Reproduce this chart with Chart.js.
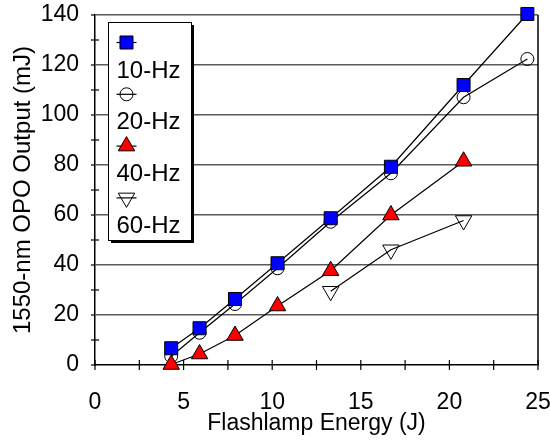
<!DOCTYPE html>
<html><head><meta charset="utf-8">
<script src="https://cdn.jsdelivr.net/npm/chart.js@4.4.1/dist/chart.umd.min.js"></script>
<style>html,body{margin:0;padding:0;background:#fff}#wrap{width:550px;height:446px;position:relative}</style>
</head><body><div id="wrap"><canvas id="c" width="550" height="446"></canvas></div>
<script>
const seriesNames = ['10-Hz', '20-Hz', '40-Hz', '60-Hz'];
const energy10 = [4.3, 5.9, 7.9, 10.3, 13.3, 16.7, 20.8, 24.4];
const out10 = [6.7, 14.7, 26.4, 40.7, 58.7, 79.3, 112, 140.4];
const energy20 = [4.3, 5.9, 7.9, 10.3, 13.3, 16.7, 20.8, 24.4];
const out20 = [3.5, 12.9, 24.4, 38.7, 57.3, 76.7, 107.1, 122.4];
const energy40 = [4.3, 5.9, 7.9, 10.3, 13.3, 16.7, 20.8];
const out40 = [0.2, 4.4, 11.8, 23.6, 37.7, 60.0, 81.5];
const energy60 = [13.3, 16.7, 20.8];
const out60 = [29.5, 46.1, 57.8];
const xTickValues = [0, 5, 10, 15, 20, 25];
const yTickValues = [0, 20, 40, 60, 80, 100, 120, 140];
const xTitle = 'Flashlamp Energy (J)';
const yTitle = '1550-nm OPO Output (mJ)';

const FONT = 'Arial, "Liberation Sans", sans-serif';
const toPts = (xs, ys) => xs.map((x, i) => ({x: x, y: ys[i]}));

const base = {showLine: true, borderColor: '#000', borderWidth: 1.2, pointBorderColor: '#000',
  pointBorderWidth: 1, clip: false, tension: 0, fill: false};

const datasets = [
  Object.assign({}, base, {label: seriesNames[0], data: toPts(energy10, out10), pointStyle: 'rect',
    pointRadius: 9.2, pointBackgroundColor: '#0000ff', order: 1}),
  Object.assign({}, base, {label: seriesNames[1], data: toPts(energy20, out20), pointStyle: 'circle',
    pointRadius: 6.5, pointBackgroundColor: 'rgba(255,255,255,0)', order: 3}),
  Object.assign({}, base, {label: seriesNames[2], data: toPts(energy40, out40), pointStyle: 'triangle',
    pointRadius: 9.5, pointBackgroundColor: '#ff0000', order: 2}),
  Object.assign({}, base, {label: seriesNames[3], data: toPts(energy60, out60), pointStyle: 'triangle',
    pointRotation: 180, pointRadius: 9.5, pointBackgroundColor: 'rgba(255,255,255,0)', order: 4})
];

function drawMarker(ctx, style, r, rot, x, y, fill) {
  ctx.save();
  ctx.fillStyle = fill; ctx.strokeStyle = '#000'; ctx.lineWidth = 1;
  ctx.beginPath();
  if (style === 'rect') {
    const s = Math.SQRT1_2 * r;
    ctx.rect(x - s, y - s, 2 * s, 2 * s);
  } else if (style === 'circle') {
    ctx.arc(x, y, r, 0, Math.PI * 2);
  } else {
    let a = (rot || 0) * Math.PI / 180;
    ctx.moveTo(x + Math.sin(a) * r, y - Math.cos(a) * r);
    a += 2 * Math.PI / 3;
    ctx.lineTo(x + Math.sin(a) * r, y - Math.cos(a) * r);
    a += 2 * Math.PI / 3;
    ctx.lineTo(x + Math.sin(a) * r, y - Math.cos(a) * r);
    ctx.closePath();
  }
  ctx.fill(); ctx.stroke();
  ctx.restore();
}

const decor = {
  id: 'decor',
  afterDatasetsDraw(chart) {
    const ctx = chart.ctx, ca = chart.chartArea;
    const xs = chart.scales.x, ys = chart.scales.y;
    ctx.save();
    ctx.strokeStyle = '#000'; ctx.lineWidth = 1.5;
    ctx.beginPath(); ctx.moveTo(ca.right, ca.top); ctx.lineTo(ca.right, ca.bottom); ctx.stroke();
    ctx.lineWidth = 1.2;
    ys.ticks.forEach(t => {
      const p = ys.getPixelForValue(t.value);
      ctx.beginPath(); ctx.moveTo(ca.left - 4, p);
      ctx.lineTo(ca.left + (t.value % 20 === 0 ? 0 : 4), p); ctx.stroke();
    });
    xs.ticks.forEach(t => {
      const p = xs.getPixelForValue(t.value);
      ctx.beginPath(); ctx.moveTo(p, ca.bottom - 5); ctx.lineTo(p, ca.bottom + 5); ctx.stroke();
    });
    ctx.restore();
  },
  afterDraw(chart) {
    const ctx = chart.ctx, ca = chart.chartArea;
    const L = ca.left + 13.5, T = ca.top + 7.5, W = 83, H = 218;
    ctx.save();
    ctx.fillStyle = '#000';
    ctx.fillRect(L + 2.5, T + 2.5, W, H);
    ctx.fillStyle = '#fff';
    ctx.fillRect(L, T, W, H);
    ctx.strokeStyle = '#000'; ctx.lineWidth = 1;
    ctx.strokeRect(L, T, W, H);
    chart.data.datasets.forEach((ds, i) => {
      const my = T + 20 + i * 51.8;
      const mx = L + 18;
      ctx.strokeStyle = '#000'; ctx.lineWidth = 1.2;
      ctx.beginPath(); ctx.moveTo(L + 8, my); ctx.lineTo(L + 28, my); ctx.stroke();
      drawMarker(ctx, ds.pointStyle, ds.pointRadius, ds.pointRotation, mx, my, ds.pointBackgroundColor);
      ctx.fillStyle = '#000';
      ctx.font = '24px ' + FONT;
      ctx.textAlign = 'left'; ctx.textBaseline = 'middle';
      ctx.fillText(ds.label, L + 8, T + 48.5 + i * 51.8);
    });
    ctx.restore();
  }
};

new Chart(document.getElementById('c'), {
  type: 'scatter',
  data: {datasets: datasets},
  plugins: [decor],
  options: {
    responsive: false,
    animation: false,
    layout: {padding: {left: 0, top: 15, right: 12, bottom: 0}},
    plugins: {legend: {display: false}, tooltip: {enabled: false}},
    scales: {
      x: {
        type: 'linear', min: 0, max: 25,
        afterFit: s => { s.height = 81; s.paddingLeft = 0; s.paddingRight = 0; },
        afterBuildTicks: s => { s.ticks = [];
          for (let v = 0; v <= 25; v += 2.5) s.ticks.push({value: v}); },
        ticks: {autoSkip: false, maxRotation: 0, padding: 24, color: '#000',
          font: {size: 23, family: FONT},
          callback: v => xTickValues.includes(v) ? String(v) : ''},
        grid: {color: 'rgba(0,0,0,0)', drawTicks: false},
        border: {display: true, color: '#000', width: 1.5},
        title: {display: true, text: xTitle, color: '#000', font: {size: 23, family: FONT},
          padding: {top: 0, bottom: 9}}
      },
      y: {
        type: 'linear', min: 0, max: 140,
        afterFit: s => { s.width = 95; s.paddingTop = 0; s.paddingBottom = 0; },
        afterBuildTicks: s => { s.ticks = [];
          for (let v = 0; v <= 140; v += 10) s.ticks.push({value: v}); },
        ticks: {autoSkip: false, padding: 16, color: '#000',
          font: {size: 23, family: FONT},
          callback: v => yTickValues.includes(v) ? String(v) : ''},
        grid: {drawTicks: false, lineWidth: 1.5,
          color: c => (c.tick && c.tick.value > 0 && c.tick.value % 20 === 0) ? '#5a5a5a' : 'rgba(0,0,0,0)'},
        border: {display: true, color: '#000', width: 1.5},
        title: {display: true, text: yTitle, color: '#000', font: {size: 24, family: FONT},
          padding: {top: 9, bottom: 0}}
      }
    }
  }
});
</script></body></html>
